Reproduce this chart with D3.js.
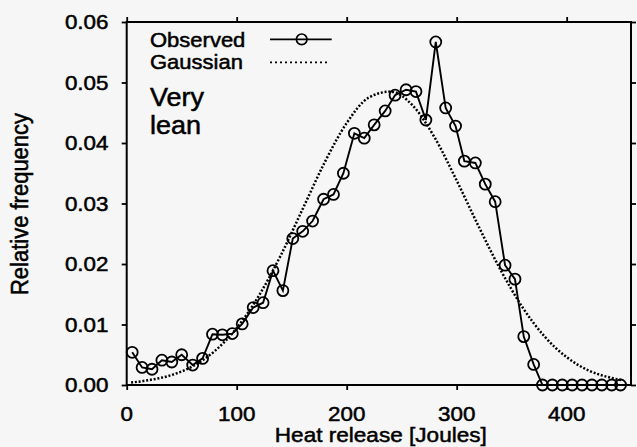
<!DOCTYPE html>
<html>
<head>
<meta charset="utf-8">
<script src="https://cdn.jsdelivr.net/npm/d3@7"></script>
<style>
  html, body { margin: 0; padding: 0; background: #f6f6f6; }
  svg { display: block; }
  text { font-family: "Liberation Sans", Arial, Helvetica, sans-serif; fill: #000; }
</style>
</head>
<body>
<svg id="chart" width="637" height="447"></svg>
<script>
// ---- data ----
const obsX = [5, 14, 23, 32, 41, 50, 60, 69, 78, 87, 96, 105, 115, 124, 133, 142, 151, 160, 169, 179,
              188, 197, 207, 216, 225, 235, 244, 254, 263, 272, 281, 290, 299, 307, 317, 326, 335, 344, 353, 361,
              370, 378, 387, 396, 405, 414, 423, 432, 441, 449];
const obsY = [0.0054, 0.0029, 0.0026, 0.0041, 0.0038, 0.0050, 0.0033, 0.0044, 0.0084, 0.0083,
              0.0085, 0.0101, 0.0128, 0.0136, 0.0189, 0.0156, 0.0242, 0.0254, 0.0271, 0.0307,
              0.0315, 0.0350, 0.0416, 0.0408, 0.0430, 0.0453, 0.0479, 0.0488, 0.0485, 0.0438,
              0.0567, 0.0458, 0.0428, 0.0370, 0.0367, 0.0332, 0.0303, 0.0198, 0.0175, 0.0080,
              0.0034, 0, 0, 0, 0, 0, 0, 0, 0, 0];
const gaussX = [4, 20, 40, 60, 80, 100, 120, 140, 160, 180, 200, 220, 240, 260, 280, 300, 320, 340, 360, 380, 400, 420, 440, 450];
const gaussY = [0.0004, 0.0008, 0.0016, 0.0031, 0.0056, 0.0094, 0.0147, 0.0214, 0.0291, 0.0368, 0.0433, 0.0475,
                0.0485, 0.0462, 0.0409, 0.0338, 0.0262, 0.0190, 0.0128, 0.0080, 0.0046, 0.0024, 0.0012, 0.0008];
const xTicks = [0, 100, 200, 300, 400];
const yTicks = [0.00, 0.01, 0.02, 0.03, 0.04, 0.05, 0.06];
const seriesNames = ["Observed", "Gaussian"];
const noteLines = ["Very", "lean"];
const xTitle = "Heat release [Joules]";
const yTitle = "Relative frequency";

// ---- layout ----
const svg = d3.select("#chart");
const L = 126.7, R = 631, T = 22, B = 385;
const x = d3.scaleLinear().domain([0, 458.5]).range([L, R]);
const y = d3.scaleLinear().domain([0, 0.06]).range([B, T]);

svg.append("rect").attr("width", 637).attr("height", 447).attr("fill", "#f6f6f6");

function txt(px, py, str, size, sx, anchor) {
  return svg.append("text")
    .attr("transform", `translate(${px},${py}) scale(${sx},1)`)
    .attr("text-anchor", anchor)
    .attr("stroke", "#000").attr("stroke-width", 0.5)
    .style("font-size", size + "px")
    .text(str);
}

// frame
svg.append("rect").attr("x", L).attr("y", T).attr("width", R - L).attr("height", B - T)
  .attr("fill", "none").attr("stroke", "#000").attr("stroke-width", 2);

// axes (ticks only, outward)
const axL = d3.axisLeft(y).tickValues(yTicks).tickSize(5).tickFormat("");
const axR = d3.axisRight(y).tickValues(yTicks).tickSize(5).tickFormat("");
const axB = d3.axisBottom(x).tickValues(xTicks).tickSize(5).tickFormat("");
const axT = d3.axisTop(x).tickValues(xTicks).tickSize(5).tickFormat("");
[[axL, `translate(${L},0)`], [axR, `translate(${R},0)`], [axB, `translate(0,${B})`], [axT, `translate(0,${T})`]]
  .forEach(([ax, tr]) => {
    const g = svg.append("g").attr("transform", tr).call(ax);
    g.select(".domain").remove();
    g.selectAll("line").attr("stroke", "#000").attr("stroke-width", 1.8);
  });

// tick labels
yTicks.forEach(v => txt(108.5, y(v) + 7, d3.format(".2f")(v), 20, 1.12, "end"));
xTicks.forEach(v => txt(x(v), 420.5, String(v), 20, 1.12, "middle"));

// axis titles
txt(380.8, 441.5, xTitle, 21, 1.075, "middle");
svg.append("text")
  .attr("transform", `translate(27.5,204) scale(1.12,1) rotate(-90)`)
  .attr("text-anchor", "middle")
  .attr("stroke", "#000").attr("stroke-width", 0.5)
  .style("font-size", "22px")
  .text(yTitle);

// gaussian curve
const gaussData = gaussX.map((v, i) => [v, gaussY[i]]);
svg.append("path")
  .datum(gaussData)
  .attr("d", d3.line().x(d => x(d[0])).y(d => y(d[1])).curve(d3.curveMonotoneX))
  .attr("fill", "none").attr("stroke", "#000").attr("stroke-width", 2.5)
  .attr("stroke-dasharray", "2,1.8");

// observed line + circles
const obsData = obsX.map((v, i) => [v, obsY[i]]);
svg.append("path")
  .datum(obsData)
  .attr("d", d3.line().x(d => x(d[0])).y(d => y(d[1])))
  .attr("fill", "none").attr("stroke", "#000").attr("stroke-width", 1.9);
svg.append("g").selectAll("circle").data(obsData).join("circle")
  .attr("cx", d => x(d[0])).attr("cy", d => y(d[1])).attr("r", 5.5)
  .attr("fill", "none").attr("stroke", "#000").attr("stroke-width", 1.8);

// legend
txt(150, 47, seriesNames[0], 20, 1.1, "start");
txt(150, 68.8, seriesNames[1], 20, 1.1, "start");
svg.append("line").attr("x1", 270).attr("x2", 331.7).attr("y1", 39.3).attr("y2", 39.3)
  .attr("stroke", "#000").attr("stroke-width", 1.8);
svg.append("circle").attr("cx", 301.7).attr("cy", 39.3).attr("r", 5.3)
  .attr("fill", "none").attr("stroke", "#000").attr("stroke-width", 1.7);
svg.append("line").attr("x1", 270).attr("x2", 330).attr("y1", 62.3).attr("y2", 62.3)
  .attr("stroke", "#000").attr("stroke-width", 1.8).attr("stroke-dasharray", "2,3");

// note
txt(150, 106, noteLines[0], 25, 1.08, "start");
txt(150, 134.3, noteLines[1], 25, 1.08, "start");
</script>
</body>
</html>
